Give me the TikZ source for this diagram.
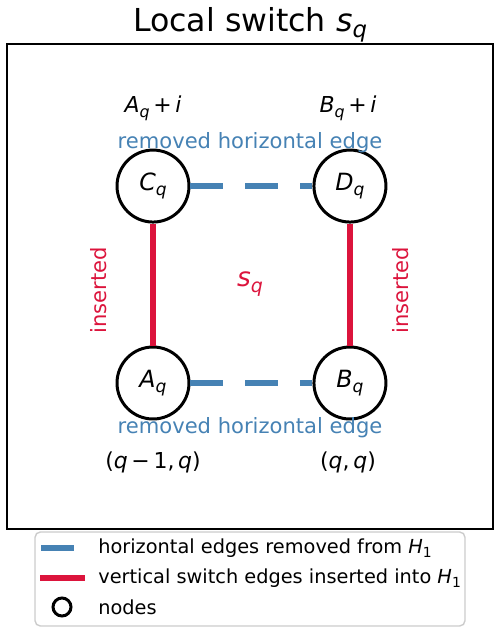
\documentclass[tikz,border=0pt]{standalone}
\usepackage{fontspec}
\usepackage{graphicx}
\setmainfont{DejaVu Sans}
\usetikzlibrary{positioning, calc}
\definecolor{edgeblue}{RGB}{70,130,180}
\definecolor{edgered}{RGB}{220,20,60}
% italic letter with italic subscript, scaled like mathtext
\newcommand{\mv}[2]{\textit{#1}\raisebox{-0.22em}{\scalebox{0.72}{\textit{#2}}}}

\begin{document}
\begin{tikzpicture}[
  x=0.02cm, y=-0.02cm,
  node distance=2.44cm,
  vtx/.style={
    circle, draw=black, line width=1.7pt, fill=white,
    minimum size=1.44cm, inner sep=0pt, font=\fontsize{13.5}{15}\selectfont
  },
  lbl/.style={font=\fontsize{12}{14}\selectfont, inner sep=0pt},
  remlbl/.style={lbl, text=edgeblue},
  inslbl/.style={lbl, text=edgered, rotate=90},
  leg/.style={font=\fontsize{11}{13}\selectfont, anchor=west, inner sep=0pt},
  rem/.style={draw=edgeblue, line width=3.4pt, dash pattern=on 0.66cm off 0.44cm},
  ins/.style={draw=edgered, line width=3.9pt}
]
\useasboundingbox (0,0) rectangle (501,633);

% ---- title and frame
\node[font=\fontsize{18}{22}\selectfont, anchor=base, inner sep=0pt] (title) at (250,31)
  {Local switch \mv{s}{q}};
\draw[line width=1.1pt] (7,44) rectangle (493,529);

% ---- the four nodes of the switch
\node[vtx] (A) at (153,383) {\mv{A}{q}};
\node[vtx] (B) [right=of A] {\mv{B}{q}};
\node[vtx] (C) [above=of A] {\mv{C}{q}};
\node[vtx] (D) [above=of B] {\mv{D}{q}};

% ---- removed horizontal edges, inserted vertical ones
\draw[rem] (C) -- (D);
\draw[rem] (A) -- (B);
\draw[ins] (C) -- (A);
\draw[ins] (D) -- (B);

% ---- annotations
\node[lbl, font=\fontsize{12.5}{14}\selectfont] (cidx) at (153,108) {\mv{A}{q}\,+\,\textit{i}};
\node[lbl, font=\fontsize{12.5}{14}\selectfont] (didx) at (348,108) {\mv{B}{q}\,+\,\textit{i}};
\node[remlbl] (remtop) at (250,143) {removed horizontal edge};
\node[remlbl] (rembot) at (250,428) {removed horizontal edge};
\node[lbl, font=\fontsize{12.5}{14}\selectfont] (aidx) at (153,462) {(\textit{q}\,−\,1,\,\textit{q})};
\node[lbl, font=\fontsize{12.5}{14}\selectfont] (bidx) at (348,462) {(\textit{q},\,\textit{q})};
\node[inslbl] (insl) at (99,290) {inserted};
\node[inslbl] (insr) at (401,290) {inserted};
\node[lbl, text=edgered, font=\fontsize{15}{17}\selectfont] (sq) at (250,284) {\mv{s}{q}};

% ---- legend
\node[draw=black!20, line width=0.8pt, rounded corners=3pt, fill=white,
  minimum width=8.6cm, minimum height=1.88cm, inner sep=0pt] (legbox) at (250,579) {};
\coordinate (b1) at (41,548);
\coordinate (b2) at (85,548);
\coordinate (r1) at (40,578);
\coordinate (r2) at (85,578);
\draw[rem] (b1) -- (b2);
\draw[ins] (r1) -- (r2);
\node[vtx, minimum size=0.36cm] (lc) at (62,607) {};
\node[leg] (lt1) at (98,548) {horizontal edges removed from \mv{H}{\textup{1}}};
\node[leg] (lt2) at (98,578) {vertical switch edges inserted into \mv{H}{\textup{1}}};
\node[leg] (lt3) at (98,607) {nodes};

\end{tikzpicture}
\end{document}
